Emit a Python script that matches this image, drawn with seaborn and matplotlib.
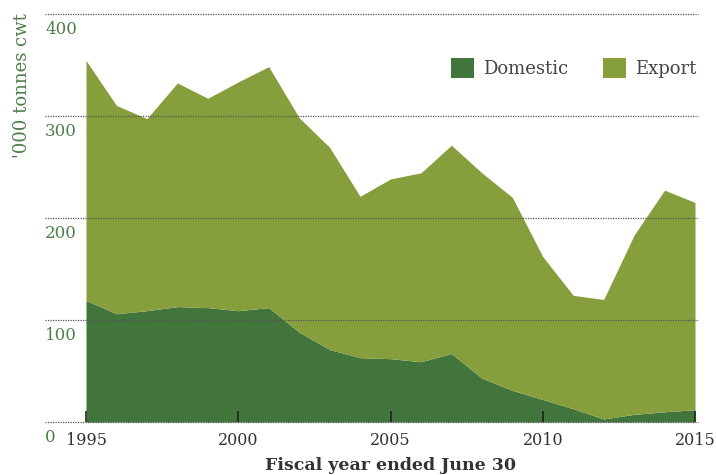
import matplotlib
matplotlib.use("Agg")
import matplotlib.pyplot as plt
import matplotlib.transforms as mtransforms
from matplotlib.patches import Patch
import seaborn as sns
import pandas as pd

years = list(range(1995, 2016))
domestic = [119, 106, 109, 113, 112, 109, 112, 88, 71, 63, 62, 59, 67, 43, 31, 22, 13, 3, 7.5, 10, 12]
total = [354, 310, 297, 332, 317, 333, 348, 298, 269, 221, 238, 244, 271, 244, 220, 162, 124, 120, 183, 227, 215]
export = [t - d for t, d in zip(total, domestic)]
series_names = ["Domestic", "Export"]
y_ticks = [0, 100, 200, 300, 400]
x_ticks = [1995, 2000, 2005, 2010, 2015]

df = pd.DataFrame({"year": years, "Domestic": domestic, "Export": export})

sns.set_theme(style="white")
plt.rcParams["font.family"] = ["DejaVu Serif", "DejaVu Sans"]

c_dom = "#41753c"
c_exp = "#879e3d"
c_green_txt = "#4d7f4a"

W, H = 716, 475
fig = plt.figure(figsize=(W / 100, H / 100), dpi=100)
left, right = 86 / W, 695 / W
bottom, top = (H - 422) / H, (H - 13.5) / H
ax = fig.add_axes([left, bottom, right - left, top - bottom])

ax.stackplot(df["year"], df["Domestic"], df["Export"], colors=[c_dom, c_exp],
             linewidth=0, labels=series_names)
ax.set_xlim(1995, 2015)
ax.set_ylim(0, 400)
ax.set_axisbelow(False)

for s in ax.spines.values():
    s.set_visible(False)

# dotted gridlines extending left past the axes
x0 = (45 - 86) / 609
x1 = (698 - 86) / 609
for v in y_ticks:
    ax.axhline(v, xmin=x0, xmax=x1, color="#555555", lw=0.9, ls=(0, (1, 1)),
               clip_on=False, zorder=5)

ax.set_yticks([])
trans = mtransforms.blended_transform_factory(ax.transAxes, ax.transData)
offset = mtransforms.ScaledTranslation(0, -7 / 100, fig.dpi_scale_trans)
for v in y_ticks:
    ax.text(x0, v, str(v), transform=trans + offset, ha="left", va="top",
            fontsize=12, color=c_green_txt)

ax.set_xticks(x_ticks)
ax.set_xticklabels([str(x) for x in x_ticks], fontsize=11.5, color="#333333")
ax.tick_params(axis="x", direction="in", length=8, width=1.1, color="#1a1a1a",
               pad=7, bottom=True)

ax.set_xlabel("Fiscal year ended June 30", fontsize=12.5, fontweight="bold",
              color="#333333", labelpad=6)
fig.text(22 / W, (H - 13) / H, "'000 tonnes cwt", rotation=90, ha="center",
         va="top", fontsize=13, color=c_green_txt)

handles = [Patch(facecolor=c_dom, edgecolor="none"), Patch(facecolor=c_exp, edgecolor="none")]
leg = ax.legend(handles, series_names, ncol=2, frameon=False, loc="upper right",
                bbox_to_anchor=(713 / W, (H - 42) / H), bbox_transform=fig.transFigure,
                handlelength=1.3, handleheight=1.3, handletextpad=0.5,
                columnspacing=1.9, fontsize=13)
for t in leg.get_texts():
    t.set_color("#444444")

fig.savefig("out.png", dpi=100)
